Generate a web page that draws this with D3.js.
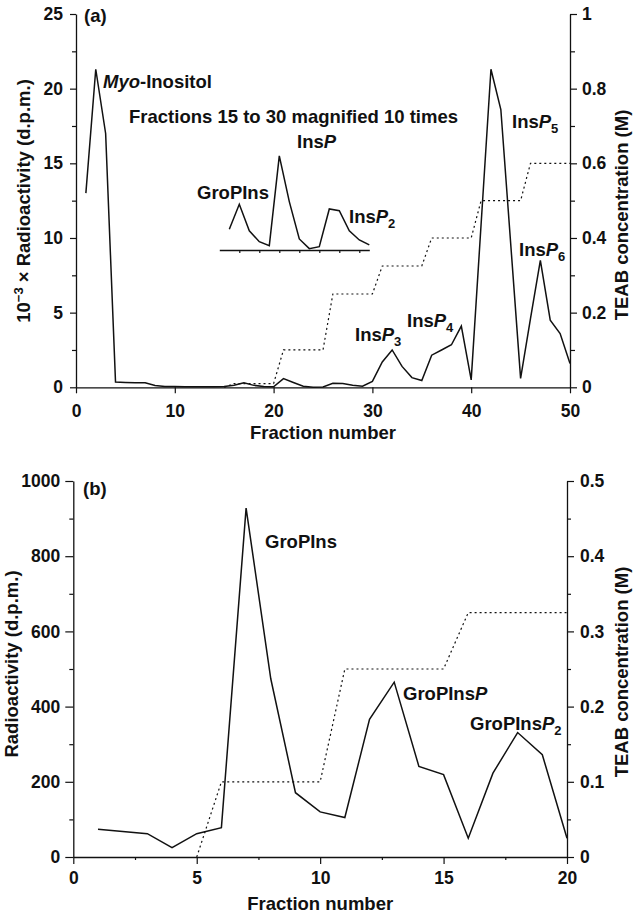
<!DOCTYPE html>
<html>
<head>
<meta charset="utf-8">
<script src="https://cdn.jsdelivr.net/npm/d3@7"></script>
<style>
  html, body { margin: 0; padding: 0; background: #fff; }
  svg { display: block; }
  text { font-family: "Liberation Sans", Arial, Helvetica, sans-serif; font-weight: bold; fill: #111; }
</style>
</head>
<body>
<svg id="chart" width="633" height="915"></svg>
<script>
// ---------------- Panel (a) data ----------------
const fractionsA = [1,2,3,4,5,6,7,8,9,10,11,12,13,14,15,16,17,18,19,20,21,22,23,24,25,26,27,28,29,30,31,32,33,34,35,36,37,38,39,40,42,43,45,46,47,48,49,50];
const radioA     = [13.0,21.3,17.0,0.35,0.32,0.3,0.3,0.12,0.05,0.05,0.04,0.04,0.04,0.04,0.05,0.14,0.3,0.13,0.06,0.03,0.58,0.32,0.07,0.01,0.02,0.27,0.26,0.13,0.07,0.4,1.7,2.5,1.4,0.65,0.45,2.15,2.5,2.85,4.1,0.5,21.3,18.6,0.6,4.6,8.5,4.5,3.6,1.6];
const teabFractionsA = [15,16,20,21,25,26,30,31,35,36,40,41,45,46,50];
const teabA          = [0,0.01,0.01,0.1,0.1,0.25,0.25,0.325,0.325,0.4,0.4,0.5,0.5,0.6,0.6];
// inset: fractions 16-30 magnified 10 times
const insetFractions = [16,17,18,19,20,21,22,23,24,25,26,27,28,29,30];
const insetRadio     = [0.139,0.306,0.129,0.056,0.029,0.63,0.324,0.074,0.009,0.022,0.275,0.263,0.129,0.067,0.034];
const insetTicks     = [17,19,21,23,25,27,29];
const ticksA_left  = [0,5,10,15,20,25];
const ticksA_leftMinor = [2.5,7.5,12.5,17.5,22.5];
const ticksA_right = [0,0.2,0.4,0.6,0.8,1];
const ticksA_rightMinor = [0.1,0.3,0.5,0.7,0.9];
const ticksA_x = [0,10,20,30,40,50];

// ---------------- Panel (b) data ----------------
const fractionsB = [1,3,4,5,6,7,8,9,10,11,12,13,14,15,16,17,18,19,20];
const radioB     = [74,62,25,62,78,928,474,171,120,105,366,465,241,219,50,223,331,272,50];
const teabFractionsB = [5,6,10,11,15,16,20];
const teabB          = [0,0.1,0.1,0.25,0.25,0.325,0.325];
const ticksB_left  = [0,200,400,600,800,1000];
const ticksB_leftMinor = [100,300,500,700,900];
const ticksB_right = [0,0.1,0.2,0.3,0.4,0.5];
const ticksB_rightMinor = [0.05,0.15,0.25,0.35,0.45];
const ticksB_x = [0,5,10,15,20];
const ticksB_xMinor = [2.5,7.5,12.5,17.5];

const svg = d3.select("#chart");
const FS = 18.5, TFS = 17.5;

function styleAxis(g, fs) {
  g.select(".domain").attr("stroke", "#111").attr("stroke-width", 1.3);
  g.selectAll(".tick line").attr("stroke", "#111").attr("stroke-width", 1.2);
  g.selectAll(".tick text").attr("font-size", fs).attr("font-family", null).attr("fill", "#111");
}
function minor(g, axisFn, scale, vals, size) {
  g.append("g").attr("transform", axisFn.tr)
   .call(axisFn.make(scale).tickValues(vals).tickSize(size).tickFormat("").tickSizeOuter(0))
   .call(s => { s.select(".domain").remove(); s.selectAll(".tick line").attr("stroke","#111").attr("stroke-width",1.2); });
}
function fmtNum(d) { return d === 0 ? "0" : (d === 1 ? "1" : String(d)); }

function label(g, x, y, parts, anchor) {
  const t = g.append("text").attr("x", x).attr("y", y).attr("font-size", FS).attr("text-anchor", anchor || "start");
  parts.forEach(p => {
    const ts = t.append("tspan").text(p.t);
    if (p.i) ts.attr("font-style", "italic");
    if (p.sub) ts.attr("font-size", 13).attr("dy", 5);
    if (p.sup) ts.attr("font-size", 13).attr("dy", -7);
  });
  return t;
}

// ================= PANEL A =================
const xA = d3.scaleLinear().domain([0, 50]).range([76, 570]);
const yA = d3.scaleLinear().domain([0, 25]).range([387.3, 14]);
const yA2 = d3.scaleLinear().domain([0, 1]).range([387.3, 14]);
const gA = svg.append("g");

gA.append("g").attr("transform", `translate(0,${yA(0)})`)
  .call(d3.axisBottom(xA).tickValues(ticksA_x).tickSize(6).tickPadding(11).tickSizeOuter(0).tickFormat(d3.format("d")))
  .call(g => styleAxis(g, TFS));
gA.append("g").attr("transform", `translate(${xA(0)},0)`)
  .call(d3.axisLeft(yA).tickValues(ticksA_left).tickSize(6).tickPadding(7).tickSizeOuter(0).tickFormat(d3.format("d")))
  .call(g => styleAxis(g, TFS));
minor(gA, {tr:`translate(${xA(0)},0)`, make: d3.axisLeft}, yA, ticksA_leftMinor, 4);
gA.append("g").attr("transform", `translate(${xA(50)},0)`)
  .call(d3.axisRight(yA2).tickValues(ticksA_right).tickSize(7).tickPadding(5).tickSizeOuter(0).tickFormat(fmtNum))
  .call(g => styleAxis(g, TFS));
minor(gA, {tr:`translate(${xA(50)},0)`, make: d3.axisRight}, yA2, ticksA_rightMinor, 5);

// TEAB dotted (a)
gA.append("path")
  .datum(teabFractionsA.map((f, i) => [f, teabA[i]]))
  .attr("fill", "none").attr("stroke", "#111").attr("stroke-width", 1.2).attr("stroke-dasharray", "2,3")
  .attr("d", d3.line().x(d => xA(d[0])).y(d => yA2(d[1])));
// radioactivity (a)
gA.append("path")
  .datum(fractionsA.map((f, i) => [f, radioA[i]]))
  .attr("fill", "none").attr("stroke", "#111").attr("stroke-width", 1.5).attr("stroke-linejoin", "miter")
  .attr("d", d3.line().x(d => xA(d[0])).y(d => yA(d[1])));

// inset
const xI = d3.scaleLinear().domain([15, 30]).range([219.3, 369.3]);
const yI = d3.scaleLinear().domain([0, 2.5]).range([250, 250 - (yA(0) - yA(25))]);
gA.append("g").attr("transform", `translate(0,${yI(0)})`)
  .call(d3.axisBottom(xI).tickValues(insetTicks).tickSize(3).tickSizeOuter(0).tickFormat(""))
  .call(g => styleAxis(g, TFS));
gA.append("path")
  .datum(insetFractions.map((f, i) => [f, insetRadio[i]]))
  .attr("fill", "none").attr("stroke", "#111").attr("stroke-width", 1.5)
  .attr("d", d3.line().x(d => xI(d[0])).y(d => yI(d[1])));

// axis titles (a)
const ytA = gA.append("text").attr("transform", "translate(30,201) rotate(-90)").attr("text-anchor", "middle").attr("font-size", FS);
ytA.append("tspan").text("10");
ytA.append("tspan").text("\u22123").attr("font-size", 13).attr("dy", -7);
ytA.append("tspan").text(" \u00d7 Radioactivity (d.p.m.)").attr("dy", 7);
gA.append("text").attr("transform", "translate(628,215) rotate(-90)").attr("text-anchor", "middle").attr("font-size", FS).text("TEAB concentration (M)");
gA.append("text").attr("x", (xA(0) + xA(50)) / 2).attr("y", 439).attr("text-anchor", "middle").attr("font-size", FS).text("Fraction number");

// annotations (a)
label(gA, 84, 22, [{t:"(a)"}]);
label(gA, 103, 88, [{t:"Myo", i:true},{t:"-Inositol"}]);
label(gA, 129, 123, [{t:"Fractions 15 to 30 magnified 10 times"}]);
label(gA, 297, 148, [{t:"Ins"},{t:"P", i:true}]);
label(gA, 197, 199, [{t:"GroPIns"}]);
label(gA, 349, 223, [{t:"Ins"},{t:"P", i:true},{t:"2", sub:true}]);
label(gA, 355, 341, [{t:"Ins"},{t:"P", i:true},{t:"3", sub:true}]);
label(gA, 407, 327, [{t:"Ins"},{t:"P", i:true},{t:"4", sub:true}]);
label(gA, 512, 128, [{t:"Ins"},{t:"P", i:true},{t:"5", sub:true}]);
label(gA, 519, 256, [{t:"Ins"},{t:"P", i:true},{t:"6", sub:true}]);

// ================= PANEL B =================
const xB = d3.scaleLinear().domain([0, 20]).range([73.3, 567]);
const yB = d3.scaleLinear().domain([0, 1000]).range([857, 481]);
const yB2 = d3.scaleLinear().domain([0, 0.5]).range([857, 481]);
const gB = svg.append("g");

gB.append("g").attr("transform", `translate(0,${yB(0)})`)
  .call(d3.axisBottom(xB).tickValues(ticksB_x).tickSize(7).tickPadding(8).tickSizeOuter(0).tickFormat(d3.format("d")))
  .call(g => styleAxis(g, TFS));
minor(gB, {tr:`translate(0,${yB(0)})`, make: d3.axisBottom}, xB, ticksB_xMinor, 3);
gB.append("g").attr("transform", `translate(${xB(0)},0)`)
  .call(d3.axisLeft(yB).tickValues(ticksB_left).tickSize(8).tickPadding(5).tickSizeOuter(0).tickFormat(d3.format("d")))
  .call(g => styleAxis(g, TFS));
minor(gB, {tr:`translate(${xB(0)},0)`, make: d3.axisLeft}, yB, ticksB_leftMinor, 4);
gB.append("g").attr("transform", `translate(${xB(20)},0)`)
  .call(d3.axisRight(yB2).tickValues(ticksB_right).tickSize(7).tickPadding(6).tickSizeOuter(0).tickFormat(fmtNum))
  .call(g => styleAxis(g, TFS));
minor(gB, {tr:`translate(${xB(20)},0)`, make: d3.axisRight}, yB2, ticksB_rightMinor, 4);

gB.append("path")
  .datum(teabFractionsB.map((f, i) => [f, teabB[i]]))
  .attr("fill", "none").attr("stroke", "#111").attr("stroke-width", 1.2).attr("stroke-dasharray", "2,3")
  .attr("d", d3.line().x(d => xB(d[0])).y(d => yB2(d[1])));
gB.append("path")
  .datum(fractionsB.map((f, i) => [f, radioB[i]]))
  .attr("fill", "none").attr("stroke", "#111").attr("stroke-width", 1.5)
  .attr("d", d3.line().x(d => xB(d[0])).y(d => yB(d[1])));

gB.append("text").attr("transform", "translate(17.5,664) rotate(-90)").attr("text-anchor", "middle").attr("font-size", FS).text("Radioactivity (d.p.m.)");
gB.append("text").attr("transform", "translate(628,672) rotate(-90)").attr("text-anchor", "middle").attr("font-size", FS).text("TEAB concentration (M)");
gB.append("text").attr("x", (xB(0) + xB(20)) / 2).attr("y", 910).attr("text-anchor", "middle").attr("font-size", FS).text("Fraction number");

label(gB, 83, 495, [{t:"(b)"}]);
label(gB, 265, 548, [{t:"GroPIns"}]);
label(gB, 403, 700, [{t:"GroPIns"},{t:"P", i:true}]);
label(gB, 470, 730, [{t:"GroPIns"},{t:"P", i:true},{t:"2", sub:true}]);
</script>
</body>
</html>
